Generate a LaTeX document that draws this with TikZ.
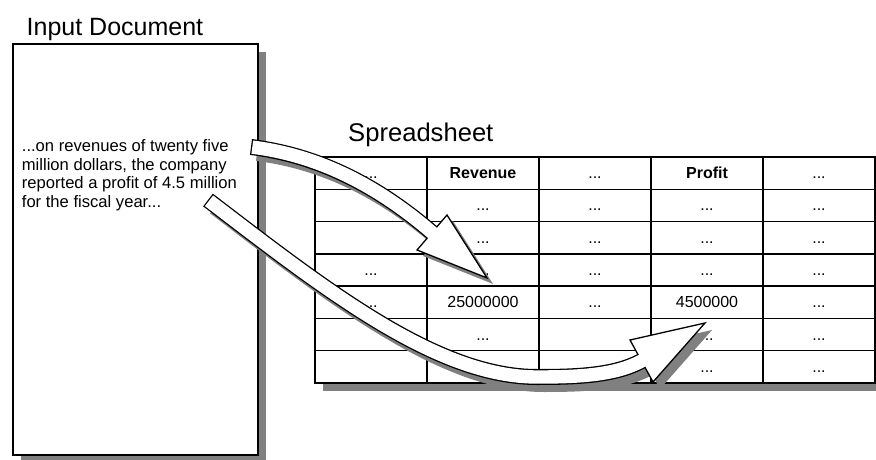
\documentclass[tikz,border=0pt]{standalone}
\usepackage{fontspec}
\setmainfont{Liberation Sans}
\usetikzlibrary{calc,shadows}
\newcommand\elide{...}
\tikzset{
  sheetbox/.style={draw=black, line width=1.4pt, fill=white, inner sep=0pt, outer sep=0pt,
    anchor=north west, drop shadow={shadow xshift=8pt, shadow yshift=-8pt, opacity=1, fill=black!50}},
  grid line/.style={black, line width=1.5pt},
  cell/.style={anchor=base, inner sep=0pt, font=\fontsize{16}{18}\selectfont},
  title/.style={anchor=base west, inner sep=0pt},
  shaft edge/.style={black, line width=16pt},
  shaft fill/.style={white, line width=13.4pt, shorten <=1.3pt},
  shaft shadow/.style={black!50, line width=16pt},
  head/.style={fill=white, draw=black, line width=1.3pt, line join=miter},
}

\begin{document}
\begin{tikzpicture}[x=1pt,y=-1pt]
\useasboundingbox (0,0) rectangle (876,460);
% input document
 \node[sheetbox, minimum width=245pt, minimum height=411pt] (doc) at (13,44) {};
 \node[title, font=\fontsize{25}{30}\selectfont] (doctitle) at (26.5,36) {Input Document};
 \node[anchor=north west, align=left, inner sep=0pt, font=\fontsize{16.6}{18.6}\selectfont]
   (doctext) at (21.7,139.5) {...on revenues of twenty five\\million dollars, the company\\reported a profit of 4.5 million\\for the fiscal year...};
% spreadsheet
 \node[title, font=\fontsize{25.6}{30}\selectfont] (sheettitle) at (348,141) {Spreadsheet};
 \node[sheetbox, minimum width=560pt, minimum height=226pt] (sheet) at (315,157) {};
 \foreach \r in {1,...,6}
   \draw[grid line] (315,{157+32.286*\r}) -- (875,{157+32.286*\r});
 \foreach \c in {1,...,4}
   \draw[grid line] ({315+112*\c},157) -- ({315+112*\c},383);
 \foreach \r/\c/\t in {0/0/\elide, 0/1/\textbf{Revenue}, 0/2/\elide, 0/3/\textbf{Profit}, 0/4/\elide,
     1/1/\elide, 1/2/\elide, 1/3/\elide, 1/4/\elide,
     2/1/\elide, 2/2/\elide, 2/3/\elide, 2/4/\elide,
     3/0/\elide, 3/1/\elide, 3/2/\elide, 3/3/\elide, 3/4/\elide,
     4/0/\elide, 4/1/25000000, 4/2/\elide, 4/3/4500000, 4/4/\elide,
     5/1/\elide, 5/3/\elide, 5/4/\elide,
     6/3/\elide, 6/4/\elide}
   \node[cell] (cell\r\c) at ({371+112*\c},{178.6+32.286*\r}) {\t};
% revenue arrow
 \coordinate (revtail) at (251,147);
 \coordinate (revbase) at (432,232.5);
 \coordinate (revtip) at (487,278);
 \coordinate (revbarbA) at (447,215);
 \coordinate (revbarbB) at (417,250);
 \coordinate (revend) at ($(revbase)!1.5pt!(revtip)$);
 \begin{scope}[transform canvas={shift={(6pt,-6pt)}}]
  \draw[shaft shadow] (revtail) .. controls +(69,8.5) and +(-53,-45.5) .. (revbase);
  \fill[black!50] (revbarbA) -- (revtip) -- (revbarbB) -- cycle;
 \end{scope}
 \draw[shaft edge] (revtail) .. controls +(69,8.5) and +(-53,-45.5) .. (revbase) -- (revend);
 \draw[head] (revbarbA) -- (revtip) -- (revbarbB) -- cycle;
 \draw[shaft fill] (revtail) .. controls +(69,8.5) and +(-53,-45.5) .. (revbase) -- (revend);
% profit arrow
 \coordinate (protail) at (208,200);
 \coordinate (prolow) at (537,377);
 \coordinate (probase) at (641.5,361);
 \coordinate (protip) at (705,323);
 \coordinate (probarbA) at (630,340);
 \coordinate (probarbB) at (653,382);
 \coordinate (proend) at ($(probase)!1.5pt!(protip)$);
 \begin{scope}[transform canvas={shift={(7pt,-7pt)}}]
  \draw[shaft shadow] (protail) .. controls +(119,91) and +(-100,0) .. (prolow)
    .. controls +(40,0) and +(-26.5,14.5) .. (probase);
  \fill[black!50] (probarbA) -- (protip) -- (probarbB) -- cycle;
 \end{scope}
 \draw[shaft edge] (protail) .. controls +(119,91) and +(-100,0) .. (prolow)
   .. controls +(40,0) and +(-26.5,14.5) .. (probase) -- (proend);
 \draw[head] (probarbA) -- (protip) -- (probarbB) -- cycle;
 \draw[shaft fill] (protail) .. controls +(119,91) and +(-100,0) .. (prolow)
   .. controls +(40,0) and +(-26.5,14.5) .. (probase) -- (proend);
\end{tikzpicture}
\end{document}
